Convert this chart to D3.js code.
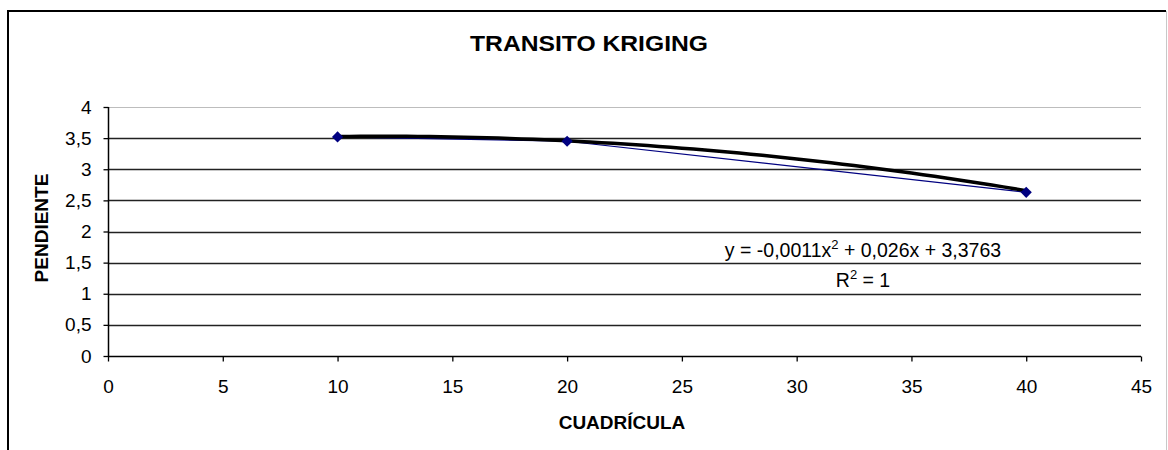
<!DOCTYPE html>
<html>
<head>
<meta charset="utf-8">
<script src="https://cdn.jsdelivr.net/npm/d3@7"></script>
<style>
  body { margin: 0; background: #fff; }
  text { font-family: "Liberation Sans", Arial, sans-serif; }
</style>
</head>
<body>
<div id="chart"></div>
<script>
var cuadricula = [10, 20, 40];
var pendiente = [3.52, 3.45, 2.63];
var trendCoef = [-0.0011, 0.026, 3.3763];
var xTicks = [0, 5, 10, 15, 20, 25, 30, 35, 40, 45];
var yTicks = [0, 0.5, 1, 1.5, 2, 2.5, 3, 3.5, 4];

var width = 1168, height = 450;
var svg = d3.select("#chart").append("svg")
  .attr("width", width)
  .attr("height", height);

// marco
svg.append("path")
  .attr("d", "M8,452 L8,11 L1166,11")
  .attr("fill", "none")
  .attr("stroke", "#000")
  .attr("stroke-width", 2);
svg.append("line")
  .attr("x1", 1166.5).attr("x2", 1166.5).attr("y1", 11).attr("y2", 450)
  .attr("stroke", "#c8c8c8").attr("stroke-width", 1);

var x = d3.scaleLinear().domain([0, 45]).range([108, 1141]);
var y = d3.scaleLinear().domain([0, 4]).range([356, 107]);

// lineas de division
svg.selectAll(".grid").data(yTicks.slice(1)).enter()
  .append("line")
  .attr("x1", x(0)).attr("x2", x(45))
  .attr("y1", function(d) { return Math.round(y(d)) + 0.5; })
  .attr("y2", function(d) { return Math.round(y(d)) + 0.5; })
  .attr("stroke", function(d) { return d == 4 ? "#bdbdbd" : "#222"; })
  .attr("stroke-width", function(d) { return d == 4 ? 1 : 1.3; });

var fmt = function(d) { return String(d).replace(".", ","); };

var yAxis = svg.append("g")
  .attr("transform", "translate(" + (x(0) + 0.5) + ",0)")
  .call(d3.axisLeft(y).tickValues(yTicks).tickSize(5).tickPadding(12).tickFormat(fmt));
var xAxis = svg.append("g")
  .attr("transform", "translate(0," + (y(0) + 0.5) + ")")
  .call(d3.axisBottom(x).tickValues(xTicks).tickSize(5).tickPadding(18).tickFormat(fmt));

[yAxis, xAxis].forEach(function(a) {
  a.select(".domain").attr("stroke", "#000").attr("stroke-width", 1.5);
  a.selectAll(".tick line").attr("stroke", "#000").attr("stroke-width", 1.3);
  a.selectAll("text")
    .attr("fill", "#000")
    .style("font-size", "19px")
    .style("font-family", "'Liberation Sans', Arial, sans-serif");
});
xAxis.select(".domain").attr("d", "M" + x(0) + ",0H" + x(45));
yAxis.select(".domain").attr("d", "M0," + y(0) + "V" + y(4));

// serie
var pts = cuadricula.map(function(c, i) { return [c, pendiente[i]]; });
svg.append("path")
  .datum(pts)
  .attr("fill", "none")
  .attr("stroke", "#000080")
  .attr("stroke-width", 1.2)
  .attr("d", d3.line().x(function(d) { return x(d[0]); }).y(function(d) { return y(d[1]); }));

// linea de tendencia polinomica
var trend = d3.range(10, 40.01, 0.5).map(function(t) {
  return [t, trendCoef[0] * t * t + trendCoef[1] * t + trendCoef[2]];
});
svg.append("path")
  .datum(trend)
  .attr("fill", "none")
  .attr("stroke", "#000")
  .attr("stroke-width", 3.5)
  .attr("d", d3.line().x(function(d) { return x(d[0]); }).y(function(d) { return y(d[1]); }));

svg.selectAll(".pt").data(pts).enter()
  .append("path")
  .attr("d", d3.symbol().type(d3.symbolDiamond2).size(80))
  .attr("transform", function(d) { return "translate(" + x(d[0]) + "," + y(d[1]) + ")"; })
  .attr("fill", "#000080");

// titulos
svg.append("text")
  .attr("x", 589).attr("y", 51)
  .attr("text-anchor", "middle")
  .attr("textLength", 238).attr("lengthAdjust", "spacingAndGlyphs")
  .style("font-size", "22px").style("font-weight", "bold")
  .text("TRANSITO KRIGING");

svg.append("text")
  .attr("transform", "translate(48,228) rotate(-90)")
  .attr("text-anchor", "middle")
  .style("font-size", "19px").style("font-weight", "bold")
  .text("PENDIENTE");

svg.append("text")
  .attr("x", 622).attr("y", 429)
  .attr("text-anchor", "middle")
  .style("font-size", "19px").style("font-weight", "bold")
  .text("CUADRÍCULA");

// ecuacion
var eq = svg.append("text")
  .attr("x", 863).attr("y", 257)
  .attr("text-anchor", "middle")
  .style("font-size", "19.5px");
eq.append("tspan").text("y = -0,0011x");
eq.append("tspan").attr("dy", -8).style("font-size", "13px").text("2");
eq.append("tspan").attr("dy", 8).text(" + 0,026x + 3,3763");

var r2 = svg.append("text")
  .attr("x", 863).attr("y", 287)
  .attr("text-anchor", "middle")
  .style("font-size", "19.5px");
r2.append("tspan").text("R");
r2.append("tspan").attr("dy", -8).style("font-size", "13px").text("2");
r2.append("tspan").attr("dy", 8).text(" = 1");
</script>
</body>
</html>
